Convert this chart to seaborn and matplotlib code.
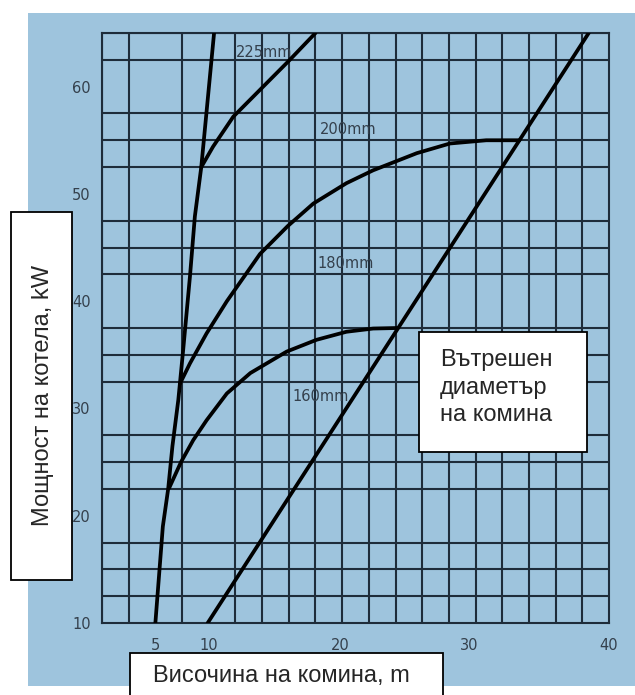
import numpy as np
import pandas as pd
import matplotlib
matplotlib.use("Agg")
import matplotlib.pyplot as plt
from matplotlib.patches import Rectangle
import seaborn as sns

# Curves (x = height in m on the chart scale, y = boiler power in kW)
line_a_x = [5.0, 5.7, 6.2, 6.6, 7.15, 7.6, 8.24, 8.7, 9.3, 10.5]
line_a_y = [10.0, 19.0, 22.5, 26.5, 30.8, 35.4, 42.3, 47.9, 52.5, 65.0]

curve_160_x = [6.3, 7.4, 8.55, 9.8, 11.7, 13.9, 17.3, 20.1, 22.9, 25.4, 27.7]
curve_160_y = [22.6, 25.0, 27.05, 28.9, 31.4, 33.3, 35.3, 36.4, 37.15, 37.45, 37.5]

curve_180_x = [7.3, 8.24, 9.8, 11.7, 14.8, 17.4, 19.8, 22.9, 25.4, 29.5, 32.6, 36.0, 39.1]
curve_180_y = [32.3, 34.2, 37.0, 40.0, 44.4, 47.0, 49.1, 51.0, 52.2, 53.8, 54.7, 55.0, 55.0]

curve_200_x = [9.3, 10.4, 12.3, 14.8, 17.5, 20.0]
curve_200_y = [52.5, 54.4, 57.2, 59.7, 62.4, 65.0]

limit_x = [9.9, 45.6]
limit_y = [10.0, 65.0]

curve_labels = ["225mm", "200mm", "180mm", "160mm"]
label_x = [12.5, 20.4, 20.2, 17.8]
label_y = [63.2, 56.0, 43.5, 31.1]

x_tick_pos = [5, 10, 22.3, 34.4, 47.5]
x_tick_labels = ["5", "10", "20", "30", "40"]
y_ticks = [10, 20, 30, 40, 50, 60]

sns.set_style("white")
plt.rcParams['font.family'] = ['DejaVu Sans']

blue = "#9ec4dd"
grid_col = "#1e2c3a"

fig = plt.figure(figsize=(6.35, 6.95), dpi=100)
fig.patch.set_facecolor("white")
fig.patches.append(Rectangle((28 / 635, 9 / 695), 1 - 28 / 635, 673 / 695,
                             transform=fig.transFigure, facecolor=blue,
                             edgecolor="none", zorder=-1))

ax = fig.add_axes([102 / 635, 72 / 695, 507 / 635, 590 / 695])
ax.set_zorder(1)
ax.set_facecolor(blue)

for xs, ys in [(line_a_x, line_a_y), (curve_160_x, curve_160_y),
               (curve_180_x, curve_180_y), (curve_200_x, curve_200_y),
               (limit_x, limit_y)]:
    df = pd.DataFrame({"x": xs, "y": ys})
    sns.lineplot(data=df, x="x", y="y", sort=False, estimator=None,
                 color="black", linewidth=2.7, ax=ax, zorder=3,
                 solid_joinstyle="round", solid_capstyle="round")

for t, lx, ly in zip(curve_labels, label_x, label_y):
    ax.text(lx, ly, t, ha="left", va="center", fontsize=10.5,
            color="#34404c", zorder=2)

ax.set_xlim(0, 47.5)
ax.set_ylim(10, 65)
ax.set_xticks(np.arange(0, 47.6, 2.5), minor=True)
ax.set_yticks(np.arange(10, 65.1, 2.5), minor=True)
ax.set_xticks(x_tick_pos)
ax.set_xticklabels(x_tick_labels)
ax.set_yticks(y_ticks)
ax.set_yticklabels([str(v) for v in y_ticks])
ax.grid(which="minor", color=grid_col, linewidth=1.5)
ax.grid(which="major", visible=False)
ax.tick_params(which="both", length=0, labelsize=10.5, labelcolor="#34404c")
ax.tick_params(axis="x", pad=11)
ax.tick_params(axis="y", pad=8)
for s in ax.spines.values():
    s.set_color(grid_col)
    s.set_linewidth(1.5)
ax.set_xlabel("")
ax.set_ylabel("")

box_font = ['Liberation Sans', 'DejaVu Sans']

# y label box
fig.patches.append(Rectangle((11 / 635, 115 / 695), 61 / 635, 368 / 695,
                             transform=fig.transFigure, facecolor="white",
                             edgecolor="black", linewidth=1.3, zorder=5))
fig.text(43 / 635, (695 - 396) / 695, "Мощност на котела, kW", rotation=90,
         ha="center", va="center", fontsize=17, family=box_font, zorder=6)

# x label box
fig.patches.append(Rectangle((130 / 635, -10 / 695), 313 / 635, 52 / 695,
                             transform=fig.transFigure, facecolor="white",
                             edgecolor="black", linewidth=1.3, zorder=5))
fig.text(281 / 635, (695 - 676) / 695, "Височина на комина, m",
         ha="center", va="center", fontsize=17, family=box_font, zorder=6)

# legend box
fig.patches.append(Rectangle((419 / 635, 243 / 695), 168 / 635, 120 / 695,
                             transform=fig.transFigure, facecolor="white",
                             edgecolor="black", linewidth=1.3, zorder=5))
for t, by in zip(["Вътрешен", "диаметър", "на комина"], [366, 394, 421]):
    fig.text(440 / 635, (695 - by) / 695, t, ha="left", va="baseline",
             fontsize=17, family=box_font, zorder=6)

fig.savefig("out.png", dpi=100)
